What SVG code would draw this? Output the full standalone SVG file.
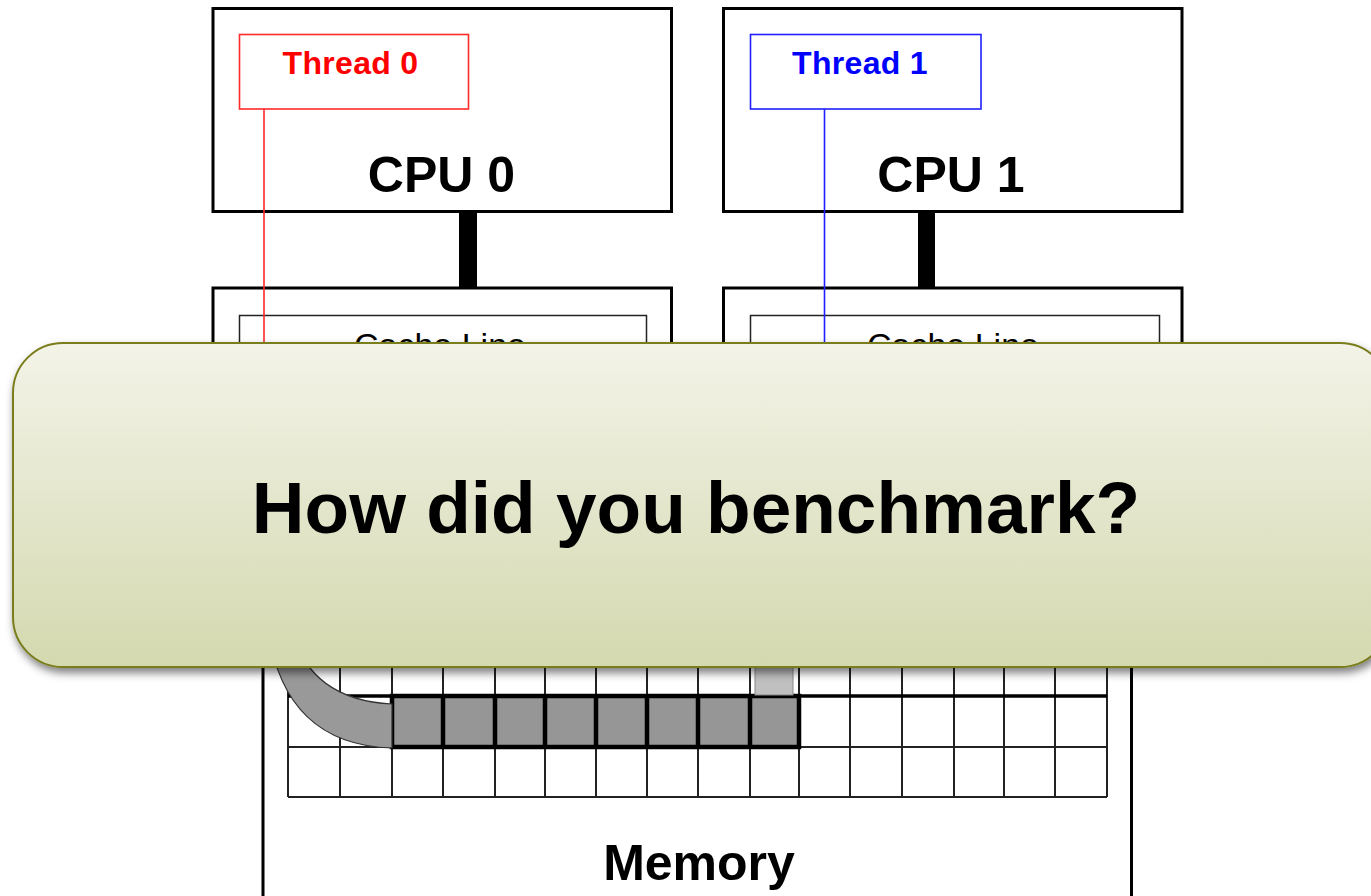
<svg xmlns="http://www.w3.org/2000/svg" width="1371" height="896" viewBox="0 0 1371 896">
<defs>
<style>
.box{fill:#fff;stroke:#000;stroke-width:3}
.inner{fill:#fff;stroke:#222;stroke-width:1.5}
.lbl{font-family:"Liberation Sans",Arial,sans-serif;fill:#000;text-anchor:middle}
.big{font-size:50px;font-weight:bold}
.thr{font-size:32px;font-weight:bold;letter-spacing:0.3px}
.grid{stroke:#222;stroke-width:2;fill:none}
.dark{stroke:#000;stroke-width:4.5;fill:none}
</style>
<linearGradient id="cg" x1="0" y1="0" x2="0" y2="1">
<stop offset="0" stop-color="#f3f3e8"/>
<stop offset="1" stop-color="#d4d9af"/>
</linearGradient>
<filter id="sh" x="-5%" y="-10%" width="110%" height="125%">
<feDropShadow dx="2" dy="5" stdDeviation="4" flood-color="#000" flood-opacity="0.5"/>
</filter>
</defs>
<rect width="1371" height="896" fill="#fff"/>

<g id="cpu0">
<rect class="box" x="213" y="8.5" width="458.5" height="203"/>
<text class="lbl big" x="441.5" y="192">CPU 0</text>
</g>
<g id="thread0">
<rect x="239.5" y="34.5" width="229" height="74.5" fill="none" stroke="#ff2a2a" stroke-width="1.6"/>
<text class="lbl thr" x="350.5" y="74" style="fill:#ff0000">Thread 0</text>
</g>
<g id="cache0">
<rect class="box" x="213" y="288" width="458.5" height="120"/>
<rect class="inner" x="239.5" y="315.5" width="407" height="80"/>
<text class="lbl" x="440" y="357" font-size="34">Cache Line</text>
</g>

<g id="cpu1">
<rect class="box" x="723.5" y="8.5" width="458.5" height="203"/>
<text class="lbl big" x="951" y="192">CPU 1</text>
</g>
<g id="thread1">
<rect x="750.5" y="34.5" width="230.5" height="74.5" fill="none" stroke="#2020ff" stroke-width="1.6"/>
<text class="lbl thr" x="860" y="74" style="fill:#0000ff">Thread 1</text>
</g>
<g id="cache1">
<rect class="box" x="723.5" y="288" width="458.5" height="120"/>
<rect class="inner" x="750.5" y="315.5" width="409" height="80"/>
<text class="lbl" x="953" y="357" font-size="34">Cache Line</text>
</g>

<g id="memory">
<rect class="box" x="263" y="600" width="868.5" height="320"/>
<g class="grid">
<path d="M288 620V797M340 620V797M392 620V797M443 620V797M495 620V797M545 620V797M596 620V797M647 620V797M698 620V797M750 620V797M799 620V797M850 620V797M902 620V797M954 620V797M1004 620V797M1055 620V797M1107 620V797"/>
<path d="M288 645.5H1107M288 747H1107M288 797H1107"/>
<path d="M288 696H1107" stroke-width="3.5" stroke="#000"/>
</g>
<rect x="392" y="696" width="407" height="51" fill="#969696"/>
<g class="dark">
<rect x="392" y="696" width="407" height="51"/>
<path d="M443 696V747M495 696V747M545 696V747M596 696V747M647 696V747M698 696V747M750 696V747"/>
</g>
<text class="lbl big" x="699" y="880">Memory</text>
</g>

<g id="connectors">
<line x1="264" y1="109" x2="264" y2="400" stroke="#ff2a2a" stroke-width="1.6"/>
<line x1="824.5" y1="109" x2="824.5" y2="400" stroke="#2020ff" stroke-width="1.6"/>
<rect x="459" y="211" width="18" height="77" fill="#000"/>
<rect x="918" y="211" width="17" height="77" fill="#000"/>
<path d="M268 630 Q285 745 392 748 L392 704 Q310 700 292 630 Z" fill="#999" stroke="#333" stroke-width="1.2"/>
<rect x="755" y="620" width="38" height="75" fill="#c0c0c0" stroke="#888" stroke-width="1"/>
</g>

<g id="callout">
<rect x="13" y="343" width="1377" height="324" rx="50" ry="50" fill="url(#cg)" stroke="#7a7d1c" stroke-width="2" filter="url(#sh)"/>
<text class="lbl" x="696" y="533" font-size="73" font-weight="bold">How did you benchmark?</text>
</g>
</svg>
